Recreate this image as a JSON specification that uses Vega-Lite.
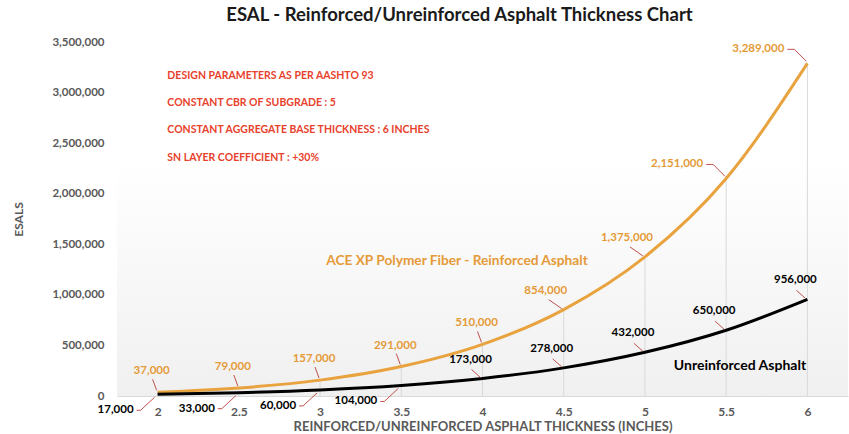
{
  "$schema": "https://vega.github.io/schema/vega-lite/v6.json",
  "width": 731,
  "height": 354,
  "autosize": {"type": "none"},
  "padding": {"left": 117, "top": 42, "right": 1, "bottom": 38},
  "background": "#ffffff",
  "config": {"view": {"stroke": null}, "font": "Lato"},
  "title": {
    "text": "ESAL - Reinforced/Unreinforced Asphalt Thickness Chart",
    "fontSize": 18.5,
    "fontWeight": "bold",
    "color": "#1a1a1a",
    "font": "Lato",
    "anchor": "middle",
    "dx": -23,
    "offset": 12
  },
  "data": {
    "values": [
      {"x": 2, "series": "Reinforced", "esal": 37000},
      {"x": 2.5, "series": "Reinforced", "esal": 79000},
      {"x": 3, "series": "Reinforced", "esal": 157000},
      {"x": 3.5, "series": "Reinforced", "esal": 291000},
      {"x": 4, "series": "Reinforced", "esal": 510000},
      {"x": 4.5, "series": "Reinforced", "esal": 854000},
      {"x": 5, "series": "Reinforced", "esal": 1375000},
      {"x": 5.5, "series": "Reinforced", "esal": 2151000},
      {"x": 6, "series": "Reinforced", "esal": 3289000},
      {"x": 2, "series": "Unreinforced", "esal": 17000},
      {"x": 2.5, "series": "Unreinforced", "esal": 33000},
      {"x": 3, "series": "Unreinforced", "esal": 60000},
      {"x": 3.5, "series": "Unreinforced", "esal": 104000},
      {"x": 4, "series": "Unreinforced", "esal": 173000},
      {"x": 4.5, "series": "Unreinforced", "esal": 278000},
      {"x": 5, "series": "Unreinforced", "esal": 432000},
      {"x": 5.5, "series": "Unreinforced", "esal": 650000},
      {"x": 6, "series": "Unreinforced", "esal": 956000}
    ]
  },
  "layer": [
    {
      "data": {"values": [{}]},
      "mark": {
        "type": "rect",
        "color": {
          "gradient": "linear", "x1": 0, "y1": 0, "x2": 0, "y2": 1,
          "stops": [
            {"offset": 0, "color": "#ffffff"},
            {"offset": 1, "color": "#f0f0f0"}
          ]
        }
      },
      "encoding": {
        "x": {"datum": 1.75, "type": "quantitative"},
        "x2": {"datum": 6.25},
        "y": {"datum": 0, "type": "quantitative"},
        "y2": {"datum": 2300000}
      }
    },
    {
      "transform": [{"filter": "datum.series == 'Reinforced'"}],
      "mark": {"type": "rule", "color": "#d9d9d9", "strokeWidth": 1},
      "encoding": {
        "x": {"field": "x", "type": "quantitative"},
        "y": {"field": "esal", "type": "quantitative"},
        "y2": {"datum": 0}
      }
    },
    {
      "mark": {"type": "line", "strokeWidth": 3, "interpolate": "monotone"},
      "encoding": {
        "x": {
          "field": "x", "type": "quantitative",
          "scale": {"domain": [1.75, 6.25], "nice": false, "zero": false},
          "axis": {
            "values": [2, 2.5, 3, 3.5, 4, 4.5, 5, 5.5, 6],
            "format": ".2~f",
            "grid": false, "ticks": false,
            "domain": true, "domainColor": "#d9d9d9",
            "labelColor": "#595959", "labelFontWeight": "bold", "labelFontSize": 12,
            "labelPadding": 10, "labelFont": "Lato",
            "title": "REINFORCED/UNREINFORCED ASPHALT THICKNESS (INCHES)",
            "titleColor": "#595959", "titleFontWeight": "bold", "titleFontSize": 13,
            "titleFont": "Lato", "titlePadding": 3
          }
        },
        "y": {
          "field": "esal", "type": "quantitative",
          "scale": {"domain": [0, 3500000], "nice": false},
          "axis": {
            "values": [0, 500000, 1000000, 1500000, 2000000, 2500000, 3000000, 3500000],
            "format": ",d",
            "grid": false, "ticks": false, "domain": false,
            "labelColor": "#595959", "labelFontWeight": "bold", "labelFontSize": 11.5,
            "labelPadding": 13, "labelFont": "Lato",
            "title": "ESALS", "titleColor": "#595959", "titleFontWeight": "bold",
            "titleFontSize": 12, "titleFont": "Lato", "titlePadding": 26
          }
        },
        "color": {
          "field": "series", "type": "nominal",
          "scale": {"domain": ["Reinforced", "Unreinforced"], "range": ["#E8A23E", "#000000"]},
          "legend": null
        },
        "detail": {"field": "series"}
      }
    },
    {
      "transform": [{"filter": "datum.series == 'Reinforced' && datum.x <= 4"}],
      "mark": {"type": "point", "shape": "M-1,-2L-5,-13", "size": 4, "filled": false, "stroke": "#C0504D", "strokeWidth": 1, "opacity": 1},
      "encoding": {"x": {"field": "x", "type": "quantitative"}, "y": {"field": "esal", "type": "quantitative"}}
    },
    {
      "transform": [{"filter": "datum.series == 'Reinforced' && datum.x <= 4"}],
      "mark": {"type": "text", "dx": -6, "dy": -21, "align": "center", "baseline": "middle", "fontSize": 11.5, "fontWeight": "bold", "color": "#E59A38"},
      "encoding": {"x": {"field": "x", "type": "quantitative"}, "y": {"field": "esal", "type": "quantitative"}, "text": {"field": "esal", "type": "quantitative", "format": ",d"}}
    },
    {
      "transform": [{"filter": "datum.series == 'Reinforced' && datum.x > 4 && datum.x <= 5"}],
      "mark": {"type": "point", "shape": "M-2,-1L-15,-10", "size": 4, "filled": false, "stroke": "#C0504D", "strokeWidth": 1, "opacity": 1},
      "encoding": {"x": {"field": "x", "type": "quantitative"}, "y": {"field": "esal", "type": "quantitative"}}
    },
    {
      "transform": [{"filter": "datum.series == 'Reinforced' && datum.x > 4 && datum.x <= 5"}],
      "mark": {"type": "text", "dx": -18, "dy": -19, "align": "center", "baseline": "middle", "fontSize": 11.5, "fontWeight": "bold", "color": "#E59A38"},
      "encoding": {"x": {"field": "x", "type": "quantitative"}, "y": {"field": "esal", "type": "quantitative"}, "text": {"field": "esal", "type": "quantitative", "format": ",d"}}
    },
    {
      "transform": [{"filter": "datum.series == 'Reinforced' && datum.x > 5"}],
      "mark": {"type": "point", "shape": "M-20,-14L-13,-14L-1,-2", "size": 4, "filled": false, "stroke": "#C0504D", "strokeWidth": 1, "opacity": 1},
      "encoding": {"x": {"field": "x", "type": "quantitative"}, "y": {"field": "esal", "type": "quantitative"}}
    },
    {
      "transform": [{"filter": "datum.series == 'Reinforced' && datum.x > 5"}],
      "mark": {"type": "text", "dx": -23, "dy": -14, "align": "right", "baseline": "middle", "fontSize": 11.5, "fontWeight": "bold", "color": "#E59A38"},
      "encoding": {"x": {"field": "x", "type": "quantitative"}, "y": {"field": "esal", "type": "quantitative"}, "text": {"field": "esal", "type": "quantitative", "format": ",d"}}
    },
    {
      "transform": [{"filter": "datum.series == 'Unreinforced' && datum.x <= 3.5"}],
      "mark": {"type": "point", "shape": "M-21,16L-17,16L-3,3", "size": 4, "filled": false, "stroke": "#C0504D", "strokeWidth": 1, "opacity": 1},
      "encoding": {"x": {"field": "x", "type": "quantitative"}, "y": {"field": "esal", "type": "quantitative"}}
    },
    {
      "transform": [{"filter": "datum.series == 'Unreinforced' && datum.x <= 3.5"}],
      "mark": {"type": "text", "dx": -24, "dy": 16, "align": "right", "baseline": "middle", "fontSize": 11.5, "fontWeight": "bold", "color": "#000000"},
      "encoding": {"x": {"field": "x", "type": "quantitative"}, "y": {"field": "esal", "type": "quantitative"}, "text": {"field": "esal", "type": "quantitative", "format": ",d"}}
    },
    {
      "transform": [{"filter": "datum.series == 'Unreinforced' && datum.x > 3.5"}],
      "mark": {"type": "point", "shape": "M-2,-1L-11,-9", "size": 4, "filled": false, "stroke": "#C0504D", "strokeWidth": 1, "opacity": 1},
      "encoding": {"x": {"field": "x", "type": "quantitative"}, "y": {"field": "esal", "type": "quantitative"}}
    },
    {
      "transform": [{"filter": "datum.series == 'Unreinforced' && datum.x > 3.5"}],
      "mark": {"type": "text", "dx": -12, "dy": -19, "align": "center", "baseline": "middle", "fontSize": 11.5, "fontWeight": "bold", "color": "#000000"},
      "encoding": {"x": {"field": "x", "type": "quantitative"}, "y": {"field": "esal", "type": "quantitative"}, "text": {"field": "esal", "type": "quantitative", "format": ",d"}}
    },
    {
      "data": {"values": [{}]},
      "mark": {"type": "text", "align": "center", "baseline": "middle", "fontSize": 13.7, "fontWeight": "bold", "color": "#E59A38"},
      "encoding": {
        "x": {"datum": 3.843, "type": "quantitative"},
        "y": {"datum": 1335000, "type": "quantitative"},
        "text": {"value": "ACE XP Polymer Fiber - Reinforced Asphalt"}
      }
    },
    {
      "data": {"values": [{}]},
      "mark": {"type": "text", "align": "center", "baseline": "middle", "fontSize": 14, "fontWeight": "bold", "color": "#000000"},
      "encoding": {
        "x": {"datum": 5.585, "type": "quantitative"},
        "y": {"datum": 297000, "type": "quantitative"},
        "text": {"value": "Unreinforced Asphalt"}
      }
    },
    {
      "data": {"values": [{}]},
      "mark": {"type": "text", "align": "left", "baseline": "middle", "fontSize": 10.5, "fontWeight": "bold", "color": "#E8412C", "font": "Lato", "lineHeight": 27.3},
      "encoding": {
        "x": {"datum": 2.06, "type": "quantitative"},
        "y": {"datum": 3165000, "type": "quantitative"},
        "text": {"value": ["DESIGN PARAMETERS AS PER AASHTO 93", "CONSTANT CBR OF SUBGRADE : 5", "CONSTANT AGGREGATE BASE THICKNESS : 6 INCHES", "SN LAYER COEFFICIENT : +30%"]}
      }
    }
  ]
}
